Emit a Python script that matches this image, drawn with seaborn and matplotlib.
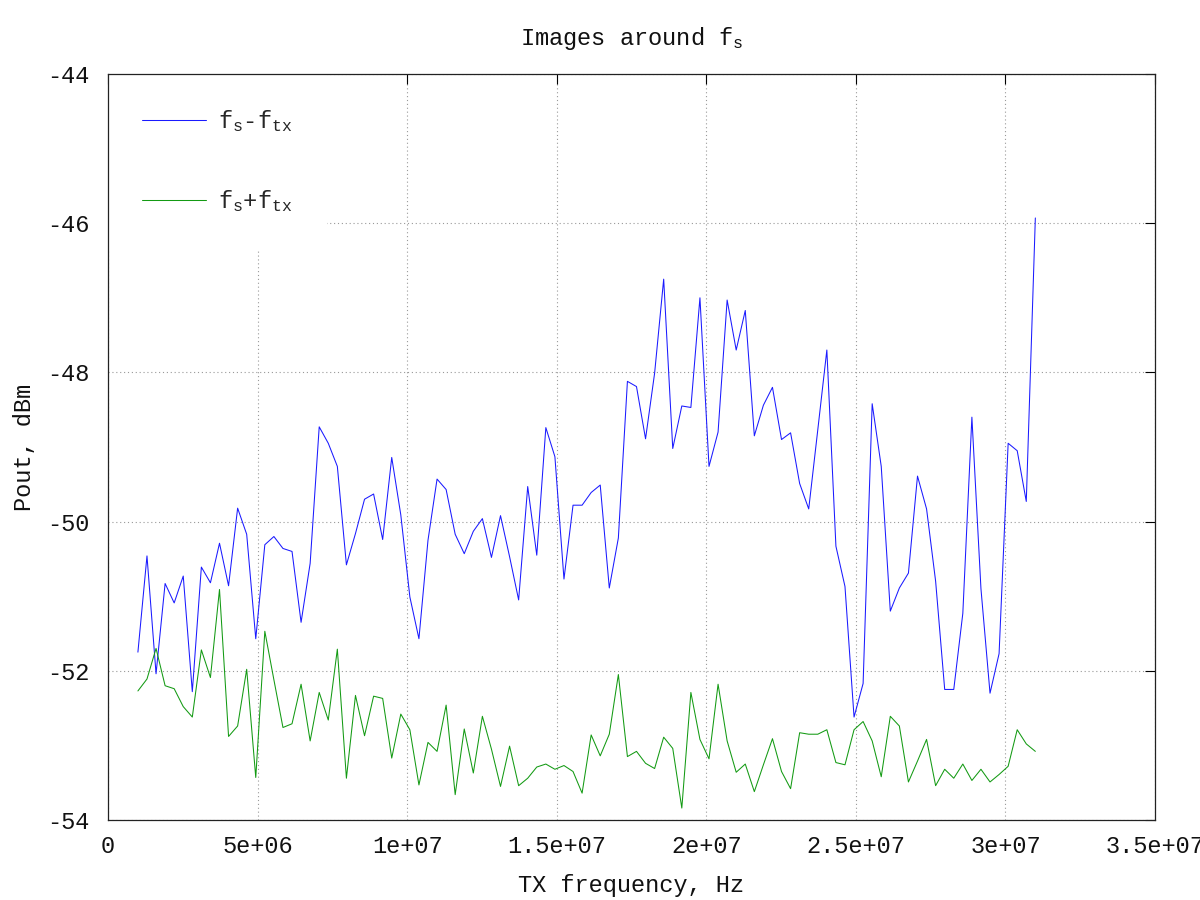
import numpy as np
import pandas as pd
import matplotlib
matplotlib.use("Agg")
import matplotlib.pyplot as plt
import seaborn as sns

# TX sweep, 100 points from 1 MHz to 31 MHz
tx_freq = np.linspace(1e6, 3.1e7, 100)

# image at fs - ftx, dBm
fs_minus_ftx = [
    -51.75, -50.46, -52.04, -50.83, -51.09, -50.73, -52.28, -50.61, -50.82, -50.29,
    -50.86, -49.82, -50.17, -51.57, -50.31, -50.20, -50.36, -50.40, -51.35, -50.56,
    -48.73, -48.95, -49.26, -50.58, -50.16, -49.70, -49.63, -50.24, -49.14, -49.91,
    -51.01, -51.57, -50.25, -49.43, -49.57, -50.17, -50.43, -50.13, -49.96, -50.48,
    -49.92, -50.47, -51.05, -49.53, -50.45, -48.74, -49.13, -50.77, -49.78, -49.78,
    -49.61, -49.51, -50.89, -50.22, -48.12, -48.19, -48.89, -48.01, -46.75, -49.02,
    -48.45, -48.47, -47.00, -49.26, -48.80, -47.03, -47.70, -47.17, -48.85, -48.44,
    -48.20, -48.90, -48.81, -49.49, -49.83, -48.77, -47.70, -50.33, -50.87, -52.62,
    -52.17, -48.42, -49.26, -51.20, -50.89, -50.69, -49.39, -49.83, -50.80, -52.25,
    -52.25, -51.23, -48.60, -50.90, -52.30, -51.77, -48.95, -49.05, -49.73, -45.93,
]

# image at fs + ftx, dBm
fs_plus_ftx = [
    -52.27, -52.11, -51.70, -52.20, -52.24, -52.48, -52.62, -51.72, -52.09, -50.91,
    -52.88, -52.74, -51.98, -53.43, -51.47, -52.12, -52.76, -52.71, -52.18, -52.94,
    -52.29, -52.66, -51.71, -53.44, -52.33, -52.87, -52.34, -52.37, -53.17, -52.58,
    -52.79, -53.53, -52.96, -53.08, -52.46, -53.66, -52.78, -53.37, -52.61, -53.05,
    -53.55, -53.01, -53.54, -53.44, -53.29, -53.25, -53.32, -53.27, -53.35, -53.64,
    -52.86, -53.14, -52.85, -52.05, -53.15, -53.08, -53.24, -53.31, -52.89, -53.04,
    -53.84, -52.29, -52.92, -53.18, -52.18, -52.94, -53.36, -53.25, -53.62, -53.26,
    -52.91, -53.35, -53.58, -52.83, -52.85, -52.85, -52.79, -53.23, -53.26, -52.79,
    -52.68, -52.94, -53.42, -52.61, -52.74, -53.49, -53.21, -52.92, -53.54, -53.32,
    -53.44, -53.25, -53.47, -53.32, -53.49, -53.39, -53.28, -52.79, -52.98, -53.08,
]

x_ticks = [0, 5e6, 1e7, 1.5e7, 2e7, 2.5e7, 3e7, 3.5e7]
y_ticks = [-54, -52, -50, -48, -46, -44]

df = pd.DataFrame({"tx": tx_freq, "minus": fs_minus_ftx, "plus": fs_plus_ftx})

sns.set_theme(style="white")
plt.rcParams["font.family"] = ["Liberation Mono", "DejaVu Sans"]
plt.rcParams["mathtext.default"] = "regular"
plt.rcParams["axes.unicode_minus"] = False

fs = 17
fig = plt.figure(figsize=(12, 9), dpi=100)
ax = fig.add_axes([108 / 1200, 80 / 900, 1047 / 1200, 746 / 900])

sns.lineplot(data=df, x="tx", y="minus", ax=ax, color="#1a1aff", lw=0.75,
             label="$f_s$-$f_{tx}$")
sns.lineplot(data=df, x="tx", y="plus", ax=ax, color="#139a13", lw=0.75,
             label="$f_s$+$f_{tx}$")

ax.set_xlim(0, 3.5e7)
ax.set_ylim(-54, -44)
ax.set_xticks(x_ticks, ["%g" % v for v in x_ticks])
ax.set_yticks(y_ticks, ["%g" % v for v in y_ticks])
ax.tick_params(direction="in", length=7, width=0.8, color="black",
               top=True, right=True, labelsize=fs, labelcolor="#111111")
ax.tick_params(axis="y", pad=13)
ax.tick_params(axis="x", pad=11)

ax.grid(True, color="#999999", linestyle=(0, (1, 2.5)), lw=0.8)
ax.set_axisbelow(True)
for s in ax.spines.values():
    s.set_color("#222222")
    s.set_linewidth(0.9)

ax.set_title("Images around $f_s$", fontsize=fs, pad=21, color="#111111")
ax.set_xlabel("TX frequency, Hz", fontsize=fs, labelpad=11, color="#111111")
ax.set_ylabel("Pout, dBm", fontsize=fs, labelpad=8, color="#111111")

leg = ax.legend(loc="upper left", fontsize=fs, frameon=True, facecolor="white",
                edgecolor="none", framealpha=1, fancybox=False, borderaxespad=0,
                borderpad=1.45, handlelength=2.7, handletextpad=0.5, labelspacing=2.3)
leg.set_zorder(2.2)

fig.savefig("out.png", dpi=100)
